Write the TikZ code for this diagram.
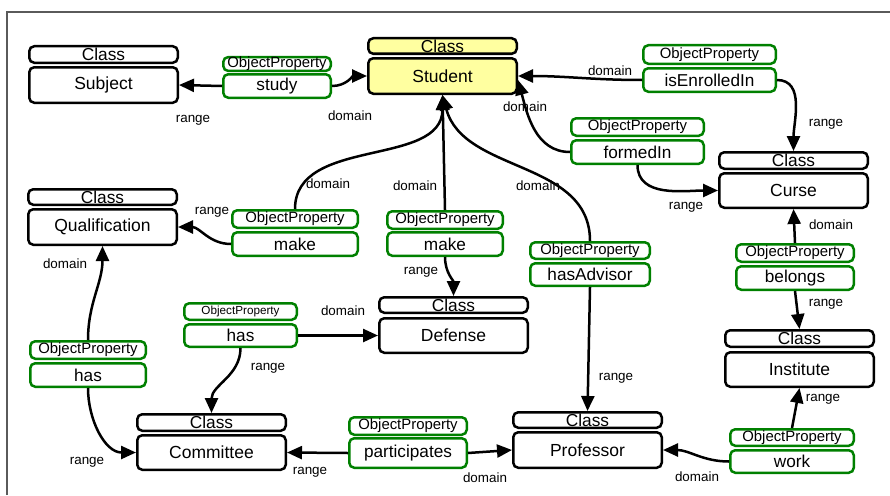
\documentclass[tikz,border=0pt]{standalone}
\usepackage{fontspec}
\setmainfont{Liberation Sans}
\usetikzlibrary{arrows.meta}
\definecolor{opgreen}{RGB}{0,128,0}
\definecolor{stuyellow}{RGB}{255,255,160}
\definecolor{framegray}{RGB}{90,90,90}
\tikzset{
  boxbase/.style={line width=2.5pt, rounded corners=5pt, fill=white, inner sep=0pt},
  clshead/.style={boxbase, draw=black, minimum width=148.5pt, font=\fontsize{17.3}{17}\selectfont},
  clsbody/.style={boxbase, draw=black, minimum width=148.5pt, font=\fontsize{17.5}{18}\selectfont},
  ophead/.style={boxbase, draw=opgreen, font=\fontsize{14.9}{15}\selectfont},
  opbody/.style={boxbase, draw=opgreen, font=\fontsize{17.2}{17}\selectfont},
  lbl/.style={inner sep=0pt, font=\fontsize{13.4}{14}\selectfont},
  conn/.style={line width=2.5pt, -{Triangle[length=15pt,width=13pt]}},
}
\begin{document}
\begin{tikzpicture}[x=1pt,y=-1pt]
\useasboundingbox (0,0) rectangle (890,495);
\draw[framegray, line width=1.5pt] (7,495) -- (7,12) -- (890,12);

% Classes
\node[clshead, minimum height=16.5pt] (subjH) at (103.5,54.5) {Class};
\node[clsbody, minimum height=35.5pt] (subjB) at (103.5,85) {Subject};
\node[clshead, fill=stuyellow, minimum height=15.5pt] (stuH) at (442.5,46) {Class};
\node[clsbody, fill=stuyellow, minimum height=35.5pt] (stuB) at (442.5,76) {Student};
\node[clshead, minimum height=15.5pt] (qualH) at (102.5,197) {Class};
\node[clsbody, minimum height=35.5pt] (qualB) at (102.5,227) {Qualification};
\node[clshead, minimum height=15.5pt] (defH) at (453.5,305) {Class};
\node[clsbody, minimum height=34.5pt] (defB) at (453.5,335.5) {Defense};
\node[clshead, minimum height=16.5pt] (comH) at (211.5,422.5) {Class};
\node[clsbody, minimum height=34.5pt] (comB) at (211.5,452.5) {Committee};
\node[clshead, minimum height=15.5pt] (profH) at (587.5,420) {Class};
\node[clsbody, minimum height=35.5pt] (profB) at (587.5,450) {Professor};
\node[clshead, minimum height=16.5pt] (instH) at (799.5,338.5) {Class};
\node[clsbody, minimum height=34.5pt] (instB) at (799.5,369.5) {Institute};
\node[clshead, minimum height=16.5pt] (curH) at (793.5,160.5) {Class};
\node[clsbody, minimum height=34.5pt] (curB) at (793.5,190.5) {Curse};

% Object properties
\node[ophead, minimum width=107.5pt, minimum height=13.5pt] (studyH) at (277,64) {ObjectProperty};
\node[opbody, minimum width=107.5pt, minimum height=23.5pt] (studyB) at (277,86) {study};
\node[ophead, minimum width=132.5pt, minimum height=18.5pt] (enrH) at (709.5,54.5) {ObjectProperty};
\node[opbody, minimum width=132.5pt, minimum height=23.5pt] (enrB) at (709.5,80) {isEnrolledIn};
\node[ophead, minimum width=132.5pt, minimum height=17.5pt] (fmH) at (637.5,127) {ObjectProperty};
\node[opbody, minimum width=132.5pt, minimum height=23.5pt] (fmB) at (637.5,152) {formedIn};
\node[ophead, minimum width=125.5pt, minimum height=17.5pt] (mkaH) at (295,219) {ObjectProperty};
\node[opbody, minimum width=125.5pt, minimum height=23.5pt] (mkaB) at (295,244) {make};
\node[ophead, minimum width=115.5pt, minimum height=17.5pt] (mkbH) at (445,220) {ObjectProperty};
\node[opbody, minimum width=115.5pt, minimum height=23.5pt] (mkbB) at (445,244) {make};
\node[ophead, minimum width=119.5pt, minimum height=16.5pt] (advH) at (590,250.5) {ObjectProperty};
\node[opbody, minimum width=119.5pt, minimum height=22.5pt] (advB) at (590,274.5) {hasAdvisor};
\node[ophead, minimum width=112.5pt, minimum height=16.5pt, font=\fontsize{11.7}{12}\selectfont] (hasMH) at (240.5,311.5) {ObjectProperty};
\node[opbody, minimum width=112.5pt, minimum height=22.5pt] (hasMB) at (240.5,335.5) {has};
\node[ophead, minimum width=115.5pt, minimum height=17.5pt] (hasLH) at (88,350) {ObjectProperty};
\node[opbody, minimum width=115.5pt, minimum height=23.5pt] (hasLB) at (88,375) {has};
\node[ophead, minimum width=117.5pt, minimum height=17.5pt] (partH) at (408,426) {ObjectProperty};
\node[opbody, minimum width=117.5pt, minimum height=29.5pt] (partB) at (408,453) {participates};
\node[ophead, minimum width=123.5pt, minimum height=16.5pt] (workH) at (792,437.5) {ObjectProperty};
\node[opbody, minimum width=123.5pt, minimum height=22.5pt] (workB) at (792,461.5) {work};
\node[ophead, minimum width=117.5pt, minimum height=17.5pt] (belH) at (795,253) {ObjectProperty};
\node[opbody, minimum width=117.5pt, minimum height=23.5pt] (belB) at (795,278) {belongs};

% Connectors
\draw[conn] (studyB.west) -- (subjB.east);
\draw[conn] (studyB.east) to[out=0,in=180] (stuB.west);
\draw[conn] (enrB.west) to[out=180,in=0] (stuB.east);
\draw[conn] (enrB.east) to[out=0,in=90] (curH.north);
\draw[conn] (fmB.west) to[out=180,in=-75] ([yshift=-4pt]stuB.east);
\draw[conn] (fmB.south) to[out=-90,in=180] (curB.west);
\draw[conn] (mkaH.north) to[out=90,in=-90] (stuB.south);
\draw[conn] (mkaB.west) to[out=180,in=0] (qualB.east);
\draw[conn] (mkbH.north) -- (stuB.south);
\draw[conn] (mkbB.south) to[out=-90,in=90] (defH.north);
\draw[conn] (advH.north) to[out=90,in=-75] (stuB.south);
\draw[conn] (advB.south) -- (profH.north);
\draw[conn] (hasMB.east) -- (defB.west);
\draw[conn] (hasMB.south) to[out=-90,in=90] (comH.north);
\draw[conn] (hasLH.north) to[out=90,in=-90] (qualB.south);
\draw[conn] (hasLB.south) to[out=-90,in=180] (comB.west);
\draw[conn] (partB.west) -- (comB.east);
\draw[conn] (partB.east) -- (profB.west);
\draw[conn] (workB.west) to[out=180,in=0] (profB.east);
\draw[conn] (workH.north) -- (instB.south);
\draw[conn] (belH.north) -- (curB.south);
\draw[conn] (belB.south) -- (instH.north);

% Labels
\node[lbl] (l1) at (193,120) {range};
\node[lbl] (l2) at (350,116) {domain};
\node[lbl] (l3) at (610,71) {domain};
\node[lbl] (l4) at (826,124) {range};
\node[lbl] (l5) at (525,107) {domain};
\node[lbl] (l6) at (686,207) {range};
\node[lbl] (l7) at (538,186) {domain};
\node[lbl] (l8) at (831,225) {domain};
\node[lbl] (l9) at (328,184) {domain};
\node[lbl] (l10) at (415,186) {domain};
\node[lbl] (l11) at (212,212) {range};
\node[lbl] (l12) at (421,272) {range};
\node[lbl] (l13) at (65,264) {domain};
\node[lbl] (l14) at (343,311) {domain};
\node[lbl] (l15) at (268,368) {range};
\node[lbl] (l16) at (87,462) {range};
\node[lbl] (l17) at (310,472) {range};
\node[lbl] (l18) at (485,478) {domain};
\node[lbl] (l19) at (616,378) {range};
\node[lbl] (l20) at (697,477) {domain};
\node[lbl] (l21) at (823,399) {range};
\node[lbl] (l22) at (826,304) {range};
\end{tikzpicture}
\end{document}
